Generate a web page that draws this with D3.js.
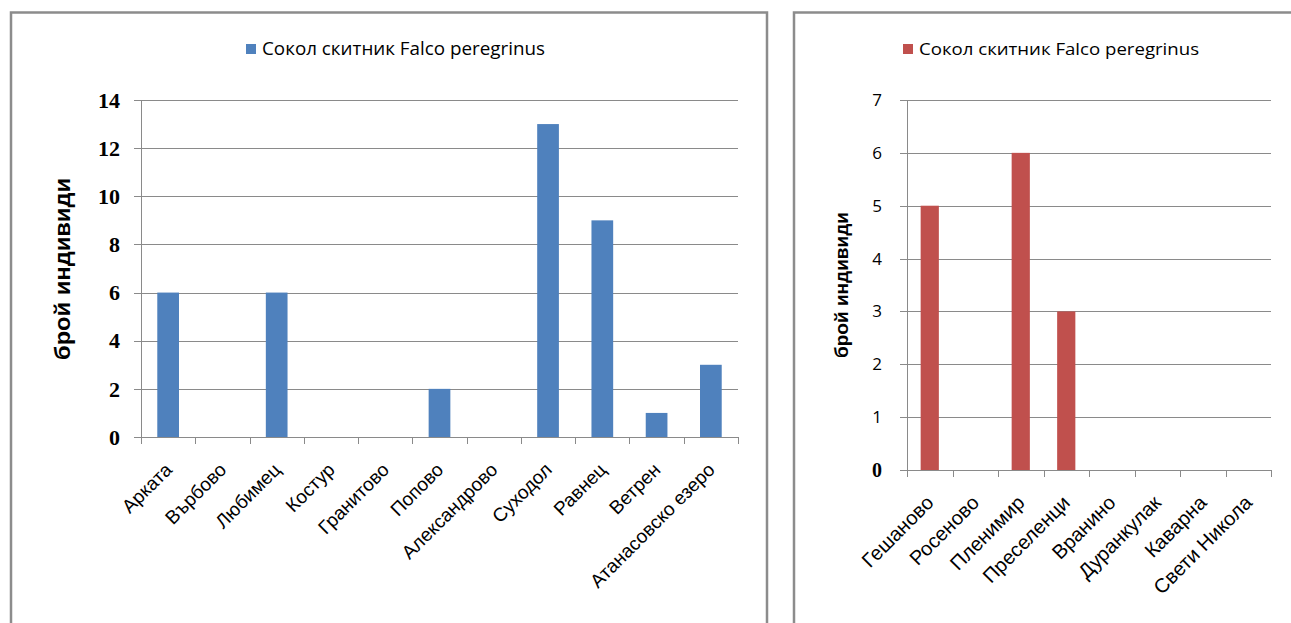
<!DOCTYPE html>
<html>
  <head>
    <meta charset="utf-8" />
    <title>Сокол скитник Falco peregrinus</title>
    <script src="https://d3js.org/d3.v7.min.js"></script>
    <style>
      body { margin: 0; background: #fff; }
      svg { display: block; }
    </style>
  </head>

  <body>
    <svg width="1291" height="623"></svg>

    <script type="text/javascript">
      // data
      var seriesName = "Сокол скитник Falco peregrinus";

      var leftCategories = ["Арката", "Върбово", "Любимец", "Костур", "Гранитово", "Попово",
        "Александрово", "Суходол", "Равнец", "Ветрен", "Атанасовско езеро"];
      var leftValues = [6, 0, 6, 0, 0, 2, 0, 13, 9, 1, 3];
      var leftTicks = [0, 2, 4, 6, 8, 10, 12, 14];

      var rightCategories = ["Гешаново", "Росеново", "Пленимир", "Преселенци", "Вранино",
        "Дуранкулак", "Каварна", "Свети Никола"];
      var rightValues = [5, 0, 6, 3, 0, 0, 0, 0];
      var rightTicks = [0, 1, 2, 3, 4, 5, 6, 7];

      var yTitle = "брой индивиди";

      var svg = d3.select("svg");

      // chart frames
      svg.append("path")
        .attr("d", "M11,623 V12.5 H767 V623")
        .attr("fill", "none")
        .attr("stroke", "#8c8c8c")
        .attr("stroke-width", 2.5);
      svg.append("path")
        .attr("d", "M794,623 V12.5 H1291")
        .attr("fill", "none")
        .attr("stroke", "#8c8c8c")
        .attr("stroke-width", 2.5);

      function barChart(opt) {
        var g = svg.append("g");

        var x = d3.scaleBand()
          .domain(opt.categories)
          .range([opt.left, opt.right])
          .paddingInner(0.6)
          .paddingOuter(0.3);
        var y = d3.scaleLinear()
          .domain([0, d3.max(opt.ticks)])
          .range([opt.bottom, opt.top]);

        // gridlines (with the outer tick mark)
        g.append("g")
          .selectAll("line")
          .data(opt.ticks)
          .enter()
          .append("line")
          .attr("x1", opt.left - 7)
          .attr("x2", opt.right)
          .attr("y1", function (d) { return Math.round(y(d)) + 0.5; })
          .attr("y2", function (d) { return Math.round(y(d)) + 0.5; })
          .attr("stroke", "#8a8a8a")
          .attr("stroke-width", 1);

        // y axis line
        g.append("line")
          .attr("x1", opt.left + 0.5)
          .attr("x2", opt.left + 0.5)
          .attr("y1", y(d3.max(opt.ticks)))
          .attr("y2", opt.bottom)
          .attr("stroke", "#8a8a8a");

        // x ticks at category boundaries
        var gap = (x.step() - x.bandwidth()) / 2;
        var bounds = opt.categories.map(function (c) { return x(c) - gap; });
        bounds.push(opt.right);
        g.append("g")
          .selectAll("line")
          .data(bounds)
          .enter()
          .append("line")
          .attr("x1", function (d) { return Math.round(d) + 0.5; })
          .attr("x2", function (d) { return Math.round(d) + 0.5; })
          .attr("y1", opt.bottom)
          .attr("y2", opt.bottom + 7)
          .attr("stroke", "#8a8a8a");

        // bars
        g.append("g")
          .selectAll("rect")
          .data(opt.values)
          .enter()
          .append("rect")
          .attr("x", function (d, i) { return x(opt.categories[i]); })
          .attr("width", x.bandwidth())
          .attr("y", function (d) { return y(d); })
          .attr("height", function (d) { return opt.bottom - y(d); })
          .attr("fill", opt.color);

        // y tick labels
        g.append("g")
          .selectAll("text")
          .data(opt.ticks)
          .enter()
          .append("text")
          .attr("x", opt.labelX)
          .attr("y", function (d) { return y(d); })
          .attr("dy", "0.35em")
          .attr("text-anchor", "end")
          .style("font-family", function (d) { return opt.serifTick(d) ? "Liberation Serif" : "Open Sans"; })
          .style("font-weight", function (d) { return opt.serifTick(d) ? "bold" : "normal"; })
          .style("font-size", function (d) { return opt.serifTick(d) ? opt.serifSize : opt.tickSize; })
          .attr("fill", "#000")
          .text(function (d) { return d; });

        // x category labels, rotated
        g.append("g")
          .selectAll("text")
          .data(opt.categories)
          .enter()
          .append("text")
          .attr("transform", function (d) {
            var cx = x(d) + x.bandwidth() / 2 + 5;
            return "translate(" + cx + "," + (opt.bottom + 34) + ") rotate(-45)";
          })
          .attr("text-anchor", "end")
          .style("font-family", "Liberation Sans")
          .style("font-size", opt.catSize)
          .attr("fill", "#000")
          .text(function (d) { return d; });

        // y axis title
        g.append("text")
          .attr("transform", "translate(" + opt.titleX + "," + opt.titleY + ") rotate(-90)")
          .attr("text-anchor", "middle")
          .attr("dy", "0.35em")
          .attr("textLength", opt.titleLen)
          .attr("lengthAdjust", "spacingAndGlyphs")
          .style("font-family", "Liberation Sans")
          .style("font-weight", "bold")
          .style("font-size", opt.titleSize)
          .attr("fill", "#000")
          .text(yTitle);

        // legend
        g.append("rect")
          .attr("x", opt.legendX)
          .attr("y", 44)
          .attr("width", 10)
          .attr("height", 10)
          .attr("fill", opt.color);
        g.append("text")
          .attr("x", opt.legendX + 16)
          .attr("y", 49)
          .attr("dy", "0.35em")
          .attr("textLength", opt.legendLen)
          .attr("lengthAdjust", "spacingAndGlyphs")
          .style("font-family", "Open Sans")
          .style("font-size", opt.legendSize)
          .attr("fill", "#000")
          .text(seriesName);
      }

      barChart({
        categories: leftCategories,
        values: leftValues,
        ticks: leftTicks,
        color: "#4f81bd",
        left: 141,
        right: 738,
        top: 100,
        bottom: 437,
        labelX: 120,
        tickSize: "22px",
        serifSize: "22px",
        serifTick: function () { return true; },
        catSize: "19px",
        titleX: 62,
        titleY: 269,
        titleSize: "22px",
        titleLen: 182,
        legendX: 246,
        legendSize: "18px",
        legendLen: 283
      });

      barChart({
        categories: rightCategories,
        values: rightValues,
        ticks: rightTicks,
        color: "#c0504d",
        left: 907,
        right: 1271,
        top: 100,
        bottom: 470,
        labelX: 882,
        tickSize: "17px",
        serifSize: "20px",
        serifTick: function (d) { return d === 0; },
        catSize: "20px",
        titleX: 842,
        titleY: 285,
        titleSize: "18px",
        titleLen: 146,
        legendX: 903,
        legendSize: "17px",
        legendLen: 280
      });
    </script>
  </body>
</html>
